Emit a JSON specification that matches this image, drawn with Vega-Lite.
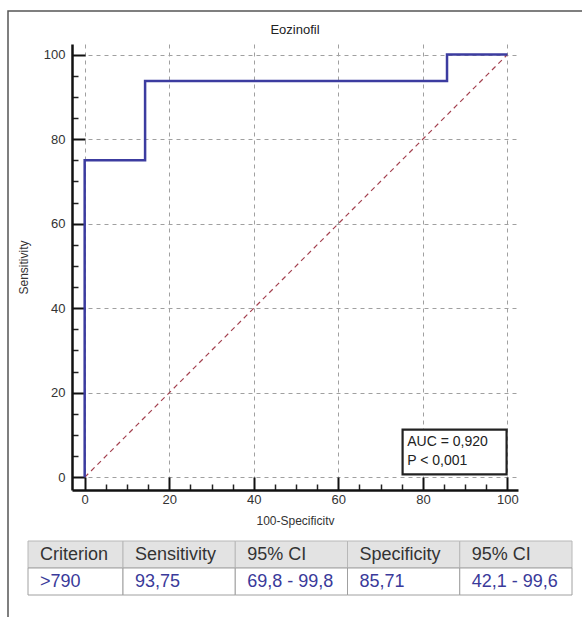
{
  "$schema": "https://vega.github.io/schema/vega-lite/v6.json",
  "width": 446,
  "height": 446,
  "autosize": {"type": "none"},
  "padding": {"left": 72, "top": 44, "right": 64, "bottom": 127},
  "config": {"font": "Liberation Sans", "view": {"stroke": null}},
  "title": {"text": "Eozinofil", "fontSize": 13, "fontWeight": "normal", "color": "#222222", "frame": "group", "anchor": "middle", "baseline": "alphabetic", "offset": 0, "dy": 36.5},
  "datasets": {
    "roc": [
      {"fpr": 0, "tpr": 0, "pt": 1},
      {"fpr": 0, "tpr": 75, "pt": 2},
      {"fpr": 14.29, "tpr": 75, "pt": 3},
      {"fpr": 14.29, "tpr": 93.75, "pt": 4},
      {"fpr": 85.71, "tpr": 93.75, "pt": 5},
      {"fpr": 85.71, "tpr": 100, "pt": 6},
      {"fpr": 100, "tpr": 100, "pt": 7}
    ],
    "diag": [
      {"fpr": 0, "tpr": 0},
      {"fpr": 100, "tpr": 100}
    ],
    "table": [
      {"col": 1, "row": "header", "label": "Criterion"},
      {"col": 2, "row": "header", "label": "Sensitivity"},
      {"col": 3, "row": "header", "label": "95% CI"},
      {"col": 4, "row": "header", "label": "Specificity"},
      {"col": 5, "row": "header", "label": "95% CI"},
      {"col": 1, "row": "value", "label": ">790"},
      {"col": 2, "row": "value", "label": "93,75"},
      {"col": 3, "row": "value", "label": "69,8 - 99,8"},
      {"col": 4, "row": "value", "label": "85,71"},
      {"col": 5, "row": "value", "label": "42,1 - 99,6"}
    ]
  },
  "layer": [
    {
      "data": {"values": [{}]},
      "mark": {"type": "rect", "fillOpacity": 0, "stroke": "#555555", "strokeWidth": 1.5},
      "encoding": {
        "x": {"datum": 0, "type": "quantitative", "scale": {"domain": [0, 1], "range": [-64, 560]}, "axis": null},
        "x2": {"datum": 1},
        "y": {"datum": 0, "type": "quantitative", "scale": {"domain": [0, 1], "range": [-33, 620]}, "axis": null},
        "y2": {"datum": 1}
      }
    },
    {
      "layer": [
        {
          "data": {"name": "diag"},
          "mark": {"type": "line", "color": "#a3414f", "strokeWidth": 1.2, "strokeDash": [5, 4]},
          "encoding": {
            "x": {"field": "fpr", "type": "quantitative", "scale": {"domain": [-3, 102.5], "nice": false, "zero": false},
              "axis": {"orient": "bottom", "values": [5, 10, 15, 25, 30, 35, 45, 50, 55, 65, 70, 75, 85, 90, 95], "labels": false, "grid": false, "domain": false, "title": null, "tickSize": -6, "tickWidth": 1.5, "tickColor": "#222222"}},
            "y": {"field": "tpr", "type": "quantitative", "scale": {"domain": [-3, 102.5], "nice": false, "zero": false},
              "axis": {"orient": "left", "values": [5, 10, 15, 25, 30, 35, 45, 50, 55, 65, 70, 75, 85, 90, 95], "labels": false, "grid": false, "domain": false, "title": null, "tickSize": -6, "tickWidth": 1.5, "tickColor": "#222222"}}
          }
        },
        {
          "data": {"name": "roc"},
          "mark": {"type": "line", "color": "#3c3ca0", "strokeWidth": 2.5},
          "encoding": {
            "x": {"field": "fpr", "type": "quantitative", "scale": {"domain": [-3, 102.5], "nice": false, "zero": false},
              "axis": {"orient": "bottom", "values": [0, 20, 40, 60, 80, 100], "grid": true, "gridDash": [4, 4], "gridColor": "#a0a0a0", "gridWidth": 1, "domainColor": "#111111", "domainWidth": 2.5, "tickColor": "#111111", "tickWidth": 2, "tickSize": -13, "labelPadding": 16, "labelFontSize": 13, "labelColor": "#333333", "labelFlush": false, "labelOverlap": false, "title": "100-Specificitv", "titleFontSize": 12, "titleFontWeight": "normal", "titleColor": "#333333", "titlePadding": 9}},
            "y": {"field": "tpr", "type": "quantitative", "scale": {"domain": [-3, 102.5], "nice": false, "zero": false},
              "axis": {"orient": "left", "values": [0, 20, 40, 60, 80, 100], "grid": true, "gridDash": [4, 4], "gridColor": "#a0a0a0", "gridWidth": 1, "domainColor": "#111111", "domainWidth": 2.5, "tickColor": "#111111", "tickWidth": 2, "tickSize": -13, "labelPadding": 20, "labelFontSize": 13, "labelColor": "#333333", "labelFlush": false, "labelOverlap": false, "title": "Sensitivity", "titleFontSize": 12, "titleFontWeight": "normal", "titleColor": "#333333", "titlePadding": 13}},
            "order": {"field": "pt", "type": "quantitative"}
          }
        },
        {
          "data": {"values": [{}]},
          "mark": {"type": "rect", "fill": "#ffffff", "stroke": "#222222", "strokeWidth": 2.2},
          "encoding": {
            "x": {"datum": 75.2, "type": "quantitative", "axis": null},
            "x2": {"datum": 99.8},
            "y": {"datum": 0.7, "type": "quantitative", "axis": null},
            "y2": {"datum": 11.3}
          }
        },
        {
          "data": {"values": [{}]},
          "mark": {"type": "text", "text": "AUC = 0,920", "align": "left", "baseline": "alphabetic", "fontSize": 14, "color": "#222222"},
          "encoding": {
            "x": {"datum": 76.3, "type": "quantitative", "axis": null},
            "y": {"datum": 7.3, "type": "quantitative", "axis": null}
          }
        },
        {
          "data": {"values": [{}]},
          "mark": {"type": "text", "text": "P < 0,001", "align": "left", "baseline": "alphabetic", "fontSize": 14, "color": "#222222"},
          "encoding": {
            "x": {"datum": 76.3, "type": "quantitative", "axis": null},
            "y": {"datum": 2.8, "type": "quantitative", "axis": null}
          }
        }
      ],
      "resolve": {"axis": {"x": "independent", "y": "independent"}}
    },
    {
      "data": {"name": "table"},
      "encoding": {
        "y": {"field": "row", "type": "nominal", "sort": ["header", "value"], "scale": {"range": [497, 551], "paddingInner": 0, "paddingOuter": 0}, "axis": null}
      },
      "layer": [
        {
          "transform": [{"filter": "datum.col == 1"}],
          "encoding": {
            "x": {"field": "col", "type": "ordinal", "scale": {"range": [-44, 51], "paddingInner": 0, "paddingOuter": 0}, "axis": null}
          },
          "layer": [
            {
              "mark": {"type": "rect", "strokeWidth": 1},
              "encoding": {
                "fill": {"field": "row", "type": "nominal", "scale": {"domain": ["header", "value"], "range": ["#e3e3e3", "#ffffff"]}, "legend": null},
                "stroke": {"field": "row", "type": "nominal", "scale": {"domain": ["header", "value"], "range": ["#b8b8b8", "#a0a0a0"]}, "legend": null},
                "strokeDash": {"field": "row", "type": "nominal", "scale": {"domain": ["header", "value"], "range": [[1, 0], [1, 1]]}, "legend": null}
              }
            },
            {
              "mark": {"type": "text", "align": "left", "baseline": "middle", "dx": 12, "fontSize": 18},
              "encoding": {
                "x": {"field": "col", "type": "ordinal", "bandPosition": 0},
                "text": {"field": "label", "type": "nominal"},
                "color": {"field": "row", "type": "nominal", "scale": {"domain": ["header", "value"], "range": ["#333333", "#3a3a9a"]}, "legend": null}
              }
            }
          ]
        },
        {
          "transform": [{"filter": "datum.col > 1"}],
          "encoding": {
            "x": {"field": "col", "type": "ordinal", "scale": {"range": [51, 500], "paddingInner": 0, "paddingOuter": 0}, "axis": null}
          },
          "layer": [
            {
              "mark": {"type": "rect", "strokeWidth": 1},
              "encoding": {
                "fill": {"field": "row", "type": "nominal", "scale": {"domain": ["header", "value"], "range": ["#e3e3e3", "#ffffff"]}, "legend": null},
                "stroke": {"field": "row", "type": "nominal", "scale": {"domain": ["header", "value"], "range": ["#b8b8b8", "#a0a0a0"]}, "legend": null},
                "strokeDash": {"field": "row", "type": "nominal", "scale": {"domain": ["header", "value"], "range": [[1, 0], [1, 1]]}, "legend": null}
              }
            },
            {
              "mark": {"type": "text", "align": "left", "baseline": "middle", "dx": 12, "fontSize": 18},
              "encoding": {
                "x": {"field": "col", "type": "ordinal", "bandPosition": 0},
                "text": {"field": "label", "type": "nominal"},
                "color": {"field": "row", "type": "nominal", "scale": {"domain": ["header", "value"], "range": ["#333333", "#3a3a9a"]}, "legend": null}
              }
            }
          ]
        }
      ],
      "resolve": {"scale": {"x": "independent"}, "axis": {"x": "independent"}}
    }
  ],
  "resolve": {"scale": {"x": "independent", "y": "independent"}, "axis": {"x": "independent", "y": "independent"}}
}
